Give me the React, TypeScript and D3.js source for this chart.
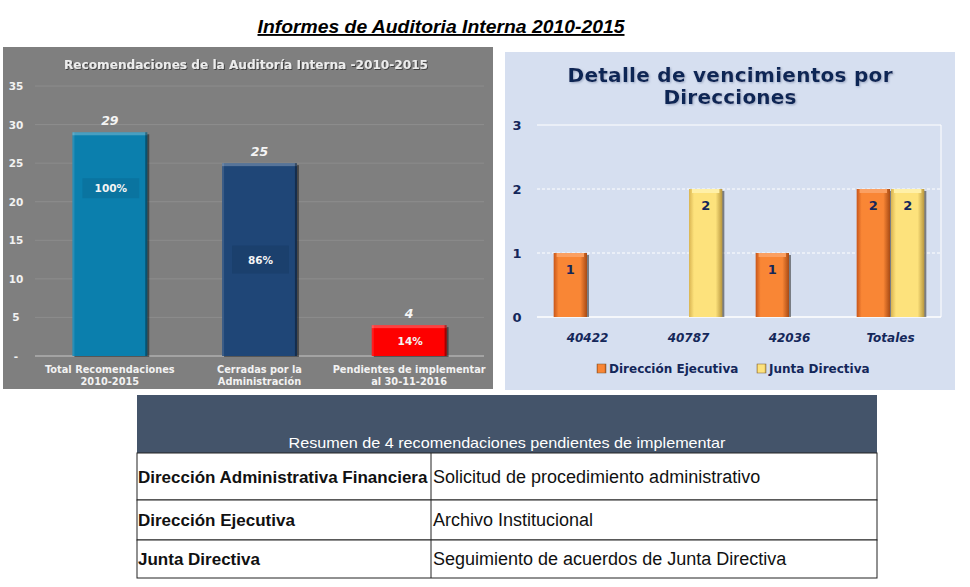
import React from "react";
import * as d3 from "d3";

// ---------- DATA ----------
const leftCategories = [
  ["Total Recomendaciones", "2010-2015"],
  ["Cerradas por la", "Administración"],
  ["Pendientes de implementar", "al 30-11-2016"],
];
const leftValues = [29, 25, 4];
const leftPercents = ["100%", "86%", "14%"];
const leftTicks = [0, 5, 10, 15, 20, 25, 30, 35];

const rightCategories = ["40422", "40787", "42036", "Totales"];
const direccionEjecutiva = [1, 0, 1, 2];
const juntaDirectiva = [0, 2, 0, 2];
const rightSeries = ["Dirección Ejecutiva", "Junta Directiva"];
const rightTicks = [0, 1, 2, 3];

const tableTitle = "Resumen de 4 recomendaciones  pendientes de implementar";
const tableDirecciones = ["Dirección Administrativa Financiera", "Dirección Ejecutiva", "Junta Directiva"];
const tableAsuntos = [
  "Solicitud de procedimiento administrativo",
  "Archivo Institucional",
  "Seguimiento de acuerdos de Junta Directiva",
];

// ---------- STYLE ----------
const leftColors = ["#0b7fad", "#1f4677", "#fe0000"];
const leftBoxColors = ["#0a74a0", "#1b406d", null];
const leftBoxHeights = [20, 28, 0];
const leftLabelPos = [0.75, 0.5, 0.5];
const navy = "#14275a";
const VERDANA = "'DejaVu Sans', Verdana, sans-serif";
const ARIAL = "'Liberation Sans', Arial, sans-serif";

export default function App() {
  // Left chart scales
  const yL = d3.scaleLinear().domain([0, 35]).range([356, 86]);
  const xL = d3
    .scaleBand<number>()
    .domain(leftValues.map((_, i) => i))
    .range([35, 484])
    .paddingInner(0.5)
    .paddingOuter(0.25);

  // Right chart scales
  const yR = d3.scaleLinear().domain([0, 3]).range([317, 125]);
  const xR = d3.scaleBand<string>().domain(rightCategories).range([537, 941]).paddingInner(0.33).paddingOuter(0.165);
  const xR1 = d3.scaleBand<number>().domain([0, 1]).range([0, xR.bandwidth()]).paddingInner(0.03);
  const seriesData = [direccionEjecutiva, juntaDirectiva];
  const seriesGrad = ["gradOrange", "gradYellow"];
  const seriesCap = ["#fba062", "#fff0a8"];

  // Table layout
  const tX0 = 137, tX1 = 877, tXmid = 431;
  const rowYs = [453, 500, 540, 578];

  return (
    <svg
      width={970}
      height={587}
      style={{ position: "absolute", left: 0, top: 0, background: "#ffffff" }}
      xmlns="http://www.w3.org/2000/svg"
    >
      <defs>
        <linearGradient id="gradOrange" x1="0" x2="1" y1="0" y2="0">
          <stop offset="0" stopColor="#c8561a" />
          <stop offset="0.15" stopColor="#f98635" />
          <stop offset="0.8" stopColor="#f98635" />
          <stop offset="1" stopColor="#a84a14" />
        </linearGradient>
        <linearGradient id="gradYellow" x1="0" x2="1" y1="0" y2="0">
          <stop offset="0" stopColor="#d9b451" />
          <stop offset="0.15" stopColor="#fde27c" />
          <stop offset="0.8" stopColor="#fde27c" />
          <stop offset="1" stopColor="#b8963d" />
        </linearGradient>
        <filter id="txtShadow" x="-5%" y="-20%" width="110%" height="140%">
          <feDropShadow dx="1" dy="1" stdDeviation="0.6" floodColor="#000" floodOpacity="0.5" />
        </filter>
        <filter id="titleShadow" x="-5%" y="-20%" width="110%" height="140%">
          <feDropShadow dx="1" dy="1" stdDeviation="0.8" floodColor="#8090b0" floodOpacity="0.7" />
        </filter>
      </defs>

      {/* Main title */}
      <text
        x={441}
        y={33}
        textAnchor="middle"
        fontFamily={ARIAL}
        fontStyle="italic"
        fontWeight="bold"
        fontSize={19}
        textDecoration="underline"
        textLength={367}
        lengthAdjust="spacingAndGlyphs"
        fill="#000"
      >
        Informes de Auditoria Interna 2010-2015
      </text>

      {/* ---------- LEFT CHART ---------- */}
      <rect x={3} y={47} width={490} height={342} fill="#7f7f7f" />
      <text
        x={246}
        y={69}
        textAnchor="middle"
        fontFamily={VERDANA}
        fontWeight="bold"
        fontSize={12.5}
        textLength={364}
        lengthAdjust="spacingAndGlyphs"
        fill="#ececec"
        filter="url(#txtShadow)"
      >
        Recomendaciones de la Auditoría Interna -2010-2015
      </text>
      {leftTicks.map((t) => (
        <g key={"lt" + t}>
          <line x1={35} x2={484} y1={yL(t)} y2={yL(t)} stroke={t === 0 ? "#c8c8c8" : "#8d8d8d"} strokeWidth={1} />
          <text
            x={16}
            y={yL(t) + 4}
            textAnchor="middle"
            fontFamily={VERDANA}
            fontWeight="bold"
            fontSize={10.5}
            fill="#f2f2f2"
          >
            {t === 0 ? "-" : t}
          </text>
        </g>
      ))}
      {leftValues.map((v, i) => {
        const x = xL(i)!;
        const w = xL.bandwidth();
        const y = yL(v);
        const h = yL(0) - y;
        const box = leftBoxColors[i];
        const bh = leftBoxHeights[i];
        const ly = yL(v * leftLabelPos[i]);
        return (
          <g key={"lb" + i}>
            <rect x={x + 2} y={y + 2} width={w} height={h - 1} fill="#1a1a1a" opacity={0.55} />
            <rect x={x} y={y} width={w} height={h} fill={leftColors[i]} />
            <rect x={x} y={y} width={w} height={3} fill="#ffffff" opacity={0.25} />
            <rect x={x} y={y} width={2} height={h} fill="#ffffff" opacity={0.12} />
            <rect x={x + w - 2} y={y} width={2} height={h} fill="#000000" opacity={0.35} />
            {box && <rect x={x + 10} y={ly - bh / 2} width={w - 18} height={bh} fill={box} />}
            <text
              x={x + w / 2 + 1}
              y={ly + 4}
              textAnchor="middle"
              fontFamily={VERDANA}
              fontWeight="bold"
              fontSize={10.5}
              fill="#f4f4f4"
            >
              {leftPercents[i]}
            </text>
            <text
              x={x + w / 2}
              y={y - 7}
              textAnchor="middle"
              fontFamily={VERDANA}
              fontWeight="bold"
              fontStyle="italic"
              fontSize={12.5}
              fill="#f4f4f4"
            >
              {v}
            </text>
            {leftCategories[i].map((line, j) => (
              <text
                key={j}
                x={x + w / 2}
                y={373 + j * 12}
                textAnchor="middle"
                fontFamily={VERDANA}
                fontWeight="bold"
                fontSize={9.8}
                fill="#f2f2f2"
              >
                {line}
              </text>
            ))}
          </g>
        );
      })}

      {/* ---------- RIGHT CHART ---------- */}
      <rect x={505} y={52} width={450} height={338} fill="#d6dff0" />
      <text
        x={730}
        y={82}
        textAnchor="middle"
        fontFamily={VERDANA}
        fontWeight="bold"
        fontSize={20}
        textLength={325}
        lengthAdjust="spacing"
        fill="#112555"
        filter="url(#titleShadow)"
      >
        Detalle de vencimientos por
      </text>
      <text
        x={730}
        y={104}
        textAnchor="middle"
        fontFamily={VERDANA}
        fontWeight="bold"
        fontSize={20}
        textLength={133}
        lengthAdjust="spacing"
        fill="#112555"
        filter="url(#titleShadow)"
      >
        Direcciones
      </text>
      {rightTicks.map((t) => (
        <g key={"rt" + t}>
          <line
            x1={537}
            x2={941}
            y1={yR(t)}
            y2={yR(t)}
            stroke="#ffffff"
            strokeWidth={t === 0 ? 1.5 : 1}
            strokeDasharray={t === 0 || t === 3 ? undefined : "3,2"}
          />
          <text
            x={517}
            y={yR(t) + 5}
            textAnchor="middle"
            fontFamily={VERDANA}
            fontWeight="bold"
            fontSize={13}
            fill={navy}
          >
            {t}
          </text>
        </g>
      ))}
      <line x1={941} x2={941} y1={yR(3)} y2={yR(0)} stroke="#ffffff" strokeWidth={1} />
      {rightCategories.map((c, ci) => (
        <g key={"rc" + c}>
          {seriesData.map((s, si) => {
            const v = s[ci];
            if (!v) return null;
            const x = xR(c)! + xR1(si)!;
            const w = xR1.bandwidth();
            const y = yR(v);
            const h = yR(0) - y;
            return (
              <g key={si}>
                <rect x={x + 2} y={y + 2} width={w} height={h - 2} fill="#3a3a3a" opacity={0.6} />
                <rect x={x} y={y} width={w} height={h} fill={`url(#${seriesGrad[si]})`} />
                <rect x={x + 3} y={y} width={w - 6} height={4} fill={seriesCap[si]} />
                <text
                  x={x + w / 2}
                  y={y + 21}
                  textAnchor="middle"
                  fontFamily={VERDANA}
                  fontWeight="bold"
                  fontSize={13}
                  fill={navy}
                >
                  {v}
                </text>
              </g>
            );
          })}
          <text
            x={xR(c)! + xR.bandwidth() / 2}
            y={342}
            textAnchor="middle"
            fontFamily={VERDANA}
            fontWeight="bold"
            fontStyle="italic"
            fontSize={12}
            fill={navy}
          >
            {c}
          </text>
        </g>
      ))}
      {/* Legend */}
      {rightSeries.map((s, si) => {
        const lx = si === 0 ? 597 : 757;
        return (
          <g key={"lg" + s}>
            <rect x={lx} y={364} width={9} height={9} fill={`url(#${seriesGrad[si]})`} stroke="#7a5a30" strokeWidth={0.5} />
            <text
              x={lx + 12}
              y={373}
              fontFamily={VERDANA}
              fontWeight="bold"
              fontSize={12}
              fill={navy}
            >
              {s}
            </text>
          </g>
        );
      })}

      {/* ---------- TABLE ---------- */}
      <rect x={tX0} y={395} width={tX1 - tX0} height={rowYs[0] - 395} fill="#44546a" />
      <text
        x={(tX0 + tX1) / 2}
        y={448}
        textAnchor="middle"
        fontFamily={ARIAL}
        fontSize={15}
        textLength={437}
        lengthAdjust="spacingAndGlyphs"
        fill="#ffffff"
      >
        {tableTitle}
      </text>
      {tableDirecciones.map((d, i) => {
        const y0 = rowYs[i];
        const y1 = rowYs[i + 1];
        const cy = (y0 + y1) / 2 + 6;
        return (
          <g key={"tr" + i}>
            <rect x={tX0} y={y0} width={tX1 - tX0} height={y1 - y0} fill="#ffffff" stroke="#222" strokeWidth={1} />
            <line x1={tXmid} x2={tXmid} y1={y0} y2={y1} stroke="#222" strokeWidth={1} />
            <text x={tX0 + 1} y={cy} fontFamily={ARIAL} fontWeight="bold" fontSize={17} fill="#111">
              {d}
            </text>
            <text x={tXmid + 2} y={cy} fontFamily={ARIAL} fontSize={18} fill="#111">
              {tableAsuntos[i]}
            </text>
          </g>
        );
      })}
    </svg>
  );
}
